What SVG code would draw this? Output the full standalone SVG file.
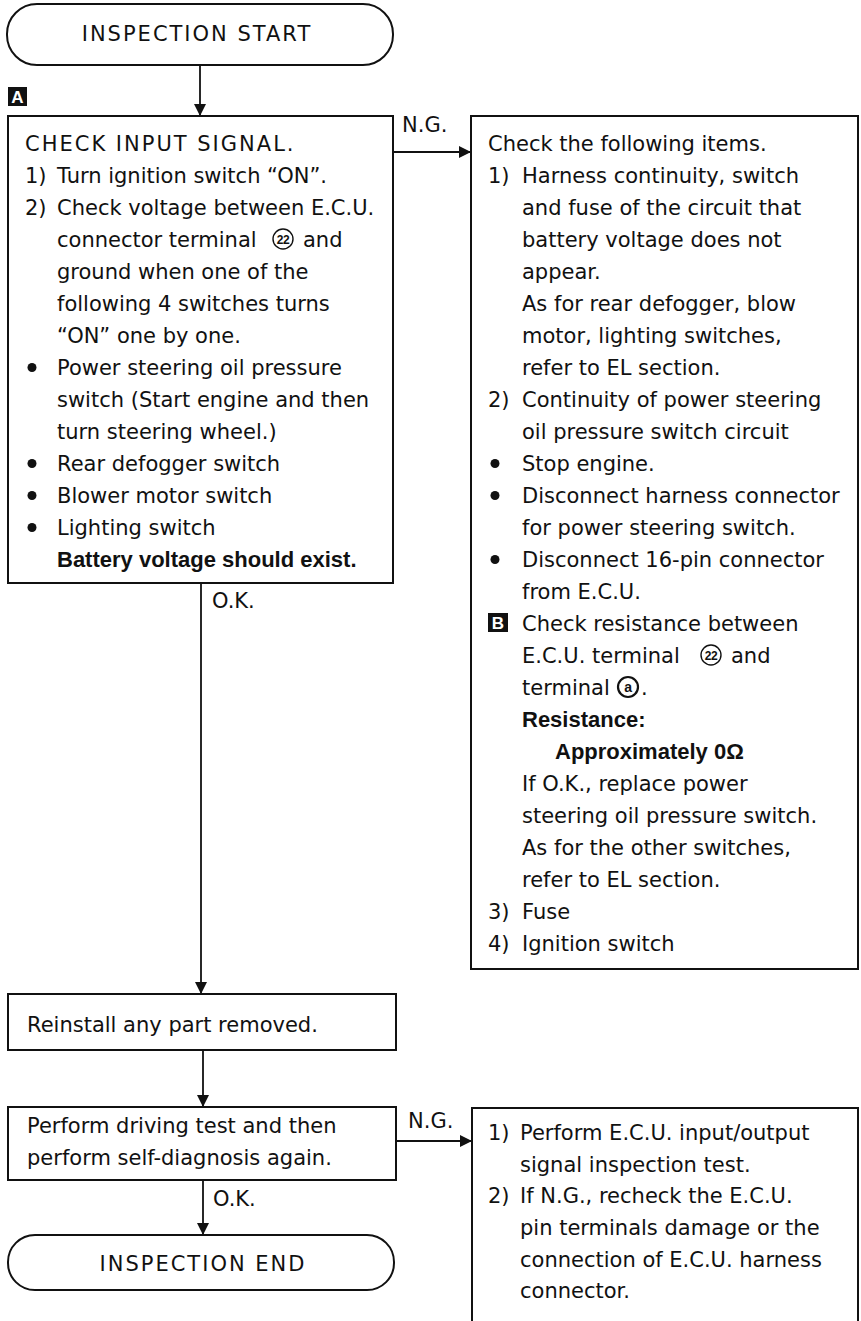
<svg xmlns="http://www.w3.org/2000/svg" width="861" height="1321" viewBox="0 0 861 1321">
<style>
.t{font-family:"DejaVu Sans","Liberation Sans",sans-serif;font-size:21px;fill:#111}
.b{font-family:"Liberation Sans",Arial,sans-serif;font-weight:bold;font-size:22px;fill:#111}
.term{font-family:"DejaVu Sans","Liberation Sans",sans-serif;font-size:21px;letter-spacing:2px;fill:#111}
.lbl{font-family:"DejaVu Sans","Liberation Sans",sans-serif;font-size:21px;fill:#111}
.box{fill:#fff;stroke:#111;stroke-width:2}
.cn{stroke:#111;stroke-width:1.8;fill:none}
.circ{fill:none;stroke:#111;stroke-width:1.4}
.cnum{font-family:"Liberation Sans",Arial,sans-serif;font-size:12px;font-weight:bold;fill:#111;text-anchor:middle;letter-spacing:-0.5px}
.tag{fill:#111}
.tagt{font-family:"Liberation Sans",Arial,sans-serif;font-weight:bold;font-size:17px;fill:#fff;text-anchor:middle}
.dot{fill:#111}
</style>
<defs>
<marker id="ah" markerUnits="userSpaceOnUse" markerWidth="12" markerHeight="12" refX="12" refY="6" orient="auto"><path d="M0,0 L12,6 L0,12 z" fill="#111"/></marker>
</defs>
<rect width="861" height="1321" fill="#fff"/>

<g id="connectors">
<line class="cn" x1="200" y1="65" x2="200" y2="116" marker-end="url(#ah)"/>
<line class="cn" x1="393" y1="152" x2="471" y2="152" marker-end="url(#ah)"/>
<text class="lbl" x="402" y="132">N.G.</text>
<line class="cn" x1="201" y1="583" x2="201" y2="994" marker-end="url(#ah)"/>
<text class="lbl" x="212" y="608">O.K.</text>
<line class="cn" x1="203" y1="1050" x2="203" y2="1107" marker-end="url(#ah)"/>
<line class="cn" x1="396" y1="1141" x2="472" y2="1141" marker-end="url(#ah)"/>
<text class="lbl" x="408" y="1128">N.G.</text>
<line class="cn" x1="203" y1="1180" x2="203" y2="1235" marker-end="url(#ah)"/>
<text class="lbl" x="213" y="1206">O.K.</text>
</g>

<g id="start">
<rect class="box" x="7" y="4" width="386" height="61" rx="30" ry="30"/>
<text class="term" x="197" y="41" text-anchor="middle">INSPECTION  START</text>
</g>

<g id="tagA">
<rect class="tag" x="8" y="87" width="19" height="19"/>
<text class="tagt" x="17.5" y="103">A</text>
</g>

<g id="check-input">
<rect class="box" x="8" y="116" width="385" height="467"/>
<text class="t" x="25" y="151" style="letter-spacing:2px">CHECK INPUT SIGNAL.</text>
<text class="t" x="25" y="183">1)</text><text class="t" x="57" y="183">Turn ignition switch “ON”.</text>
<text class="t" x="25" y="215">2)</text><text class="t" x="57" y="215">Check voltage between E.C.U.</text>
<text class="t" x="57" y="247">connector terminal</text>
<circle class="circ" cx="283" cy="239" r="10"/><text class="cnum" x="283" y="243.5">22</text>
<text class="t" x="303" y="247">and</text>
<text class="t" x="57" y="279">ground when one of the</text>
<text class="t" x="57" y="311">following 4 switches turns</text>
<text class="t" x="57" y="343">“ON” one by one.</text>
<circle class="dot" cx="32" cy="367.5" r="4.5"/><text class="t" x="57" y="375">Power steering oil pressure</text>
<text class="t" x="57" y="407">switch (Start engine and then</text>
<text class="t" x="57" y="439">turn steering wheel.)</text>
<circle class="dot" cx="32" cy="463.5" r="4.5"/><text class="t" x="57" y="471">Rear defogger switch</text>
<circle class="dot" cx="32" cy="495.5" r="4.5"/><text class="t" x="57" y="503">Blower motor switch</text>
<circle class="dot" cx="32" cy="527.5" r="4.5"/><text class="t" x="57" y="535">Lighting switch</text>
<text class="b" x="57" y="567">Battery voltage should exist.</text>
</g>

<g id="check-items">
<rect class="box" x="471" y="116" width="387" height="853"/>
<text class="t" x="488" y="151">Check the following items.</text>
<text class="t" x="488" y="183">1)</text><text class="t" x="522" y="183">Harness continuity, switch</text>
<text class="t" x="522" y="215">and fuse of the circuit that</text>
<text class="t" x="522" y="247">battery voltage does not</text>
<text class="t" x="522" y="279">appear.</text>
<text class="t" x="522" y="311">As for rear defogger, blow</text>
<text class="t" x="522" y="343">motor, lighting switches,</text>
<text class="t" x="522" y="375">refer to EL section.</text>
<text class="t" x="488" y="407">2)</text><text class="t" x="522" y="407">Continuity of power steering</text>
<text class="t" x="522" y="439">oil pressure switch circuit</text>
<circle class="dot" cx="495" cy="463.5" r="4.5"/><text class="t" x="522" y="471">Stop engine.</text>
<circle class="dot" cx="495" cy="495.5" r="4.5"/><text class="t" x="522" y="503">Disconnect harness connector</text>
<text class="t" x="522" y="535">for power steering switch.</text>
<circle class="dot" cx="495" cy="559.5" r="4.5"/><text class="t" x="522" y="567">Disconnect 16-pin connector</text>
<text class="t" x="522" y="599">from E.C.U.</text>
<rect class="tag" x="488" y="613" width="20" height="19"/><text class="tagt" x="498" y="629">B</text>
<text class="t" x="522" y="631">Check resistance between</text>
<text class="t" x="522" y="663">E.C.U. terminal</text>
<circle class="circ" cx="711" cy="655" r="10"/><text class="cnum" x="711" y="659.5">22</text>
<text class="t" x="731" y="663">and</text>
<text class="t" x="522" y="695">terminal</text>
<circle class="circ" cx="628" cy="687" r="10" style="stroke-width:2.2"/><text class="cnum" x="628" y="692" style="font-size:14px">a</text>
<text class="t" x="641" y="695">.</text>
<text class="b" x="522" y="727">Resistance:</text>
<text class="b" x="555" y="759">Approximately 0Ω</text>
<text class="t" x="522" y="791">If O.K., replace power</text>
<text class="t" x="522" y="823">steering oil pressure switch.</text>
<text class="t" x="522" y="855">As for the other switches,</text>
<text class="t" x="522" y="887">refer to EL section.</text>
<text class="t" x="488" y="919">3)</text><text class="t" x="522" y="919">Fuse</text>
<text class="t" x="488" y="951">4)</text><text class="t" x="522" y="951">Ignition switch</text>
</g>

<g id="reinstall">
<rect class="box" x="8" y="994" width="388" height="56"/>
<text class="t" x="27" y="1032">Reinstall any part removed.</text>
</g>

<g id="driving-test">
<rect class="box" x="8" y="1107" width="388" height="73"/>
<text class="t" x="27" y="1133">Perform driving test and then</text>
<text class="t" x="27" y="1165">perform self-diagnosis again.</text>
</g>

<g id="ecu-test">
<path class="box" d="M472,1325 L472,1108 L858,1108 L858,1325"/>
<text class="t" x="488" y="1140">1)</text><text class="t" x="520" y="1140">Perform E.C.U. input/output</text>
<text class="t" x="520" y="1172">signal inspection test.</text>
<text class="t" x="488" y="1203">2)</text><text class="t" x="520" y="1203">If N.G., recheck the E.C.U.</text>
<text class="t" x="520" y="1235">pin terminals damage or the</text>
<text class="t" x="520" y="1267">connection of E.C.U. harness</text>
<text class="t" x="520" y="1298">connector.</text>
</g>

<g id="end">
<rect class="box" x="8" y="1235" width="386" height="55" rx="27" ry="27"/>
<text class="term" x="203" y="1271" text-anchor="middle">INSPECTION  END</text>
</g>
</svg>
